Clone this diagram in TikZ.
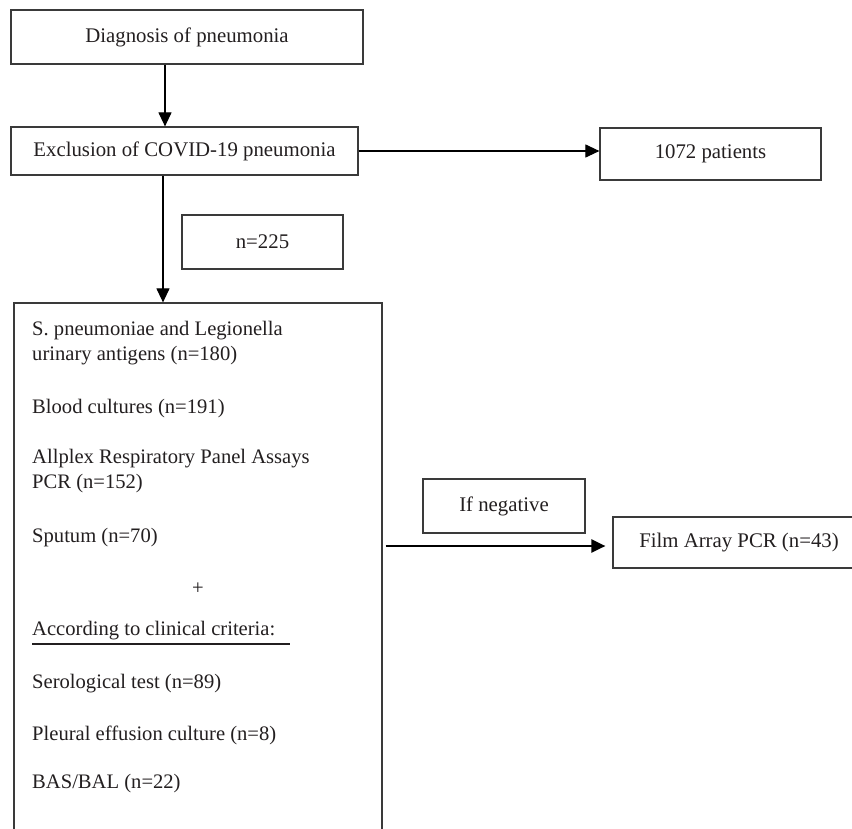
\documentclass[tikz,border=0pt]{standalone}
\usepackage{fontspec}
\setmainfont{Liberation Serif}
\usetikzlibrary{arrows.meta}
\definecolor{boxline}{HTML}{3A3A3A}
\definecolor{ink}{HTML}{231F20}
\tikzset{
  box/.style={draw=boxline, line width=1.2pt, inner sep=0pt, align=center, text=ink,
    font=\fontsize{20.8}{25}\selectfont},
  item/.style={anchor=base west, inner sep=0pt, align=left, text=ink,
    font=\fontsize{20.6}{25}\selectfont},
  arr/.style={draw=black, line width=1.1pt, -{Triangle[length=14pt,width=13pt]}},
  thickarr/.style={draw=black, line width=2.2pt, -{Triangle[length=14pt,width=13pt]}}
}
\begin{document}
\begin{tikzpicture}[x=1pt,y=-1pt]
\clip (0,0) rectangle (852,828);
\useasboundingbox (0,0) rectangle (852,828);
\fill[white] (0,0) rectangle (852,828);

\node[box, minimum width=352pt, minimum height=54pt] (diag) at (187,37) {Diagnosis of pneumonia};
\node[box, minimum width=347pt, minimum height=48pt] (excl) at (184.5,151) {Exclusion of COVID-19 pneumonia};
\node[box, minimum width=221pt, minimum height=52pt] (r1072) at (710.5,154) {1072 patients};
\node[box, minimum width=161pt, minimum height=54pt] (n225) at (262.5,242) {n=225};
\node[box, minimum width=368pt, minimum height=560pt] (big) at (198,583) {};
\node[box, minimum width=162pt, minimum height=54pt] (neg) at (504,506) {If negative};
\node[box, minimum width=252pt, minimum height=51pt] (film) at (739,542.5) {Film Array PCR (n=43)};

\node[item] (t1) at (32,360) {S. pneumoniae and Legionella\\urinary antigens (n=180)};
\node[item] (t2) at (32,413) {Blood cultures (n=191)};
\node[item] (t3) at (32,488) {Allplex Respiratory Panel Assays\\PCR (n=152)};
\node[item] (t4) at (32,542) {Sputum (n=70)};
\node[item, anchor=base] (plus) at (198,594) {+};
\node[item] (acc) at (32,635) {According to clinical criteria:};
\node[item] (t5) at (32,688) {Serological test (n=89)};
\node[item] (t6) at (32,740) {Pleural effusion culture (n=8)};
\node[item] (t7) at (32,788) {BAS/BAL (n=22)};

\draw[ink, line width=2pt] ([yshift=-9pt]acc.base west) -- ++(258,0);

\coordinate (c1) at (165,0);
\coordinate (c2) at (163,0);
\coordinate (c3) at (0,546);

\draw[arr] (diag.south -| c1) -- (excl.north -| c1);
\draw[arr] (excl.east) -- (excl.east -| r1072.west);
\draw[arr] (excl.south -| c2) -- (big.north -| c2);
\draw[thickarr] ([xshift=3pt]big.east |- c3) -- ([xshift=-7pt]film.west |- c3);
\end{tikzpicture}
\end{document}
